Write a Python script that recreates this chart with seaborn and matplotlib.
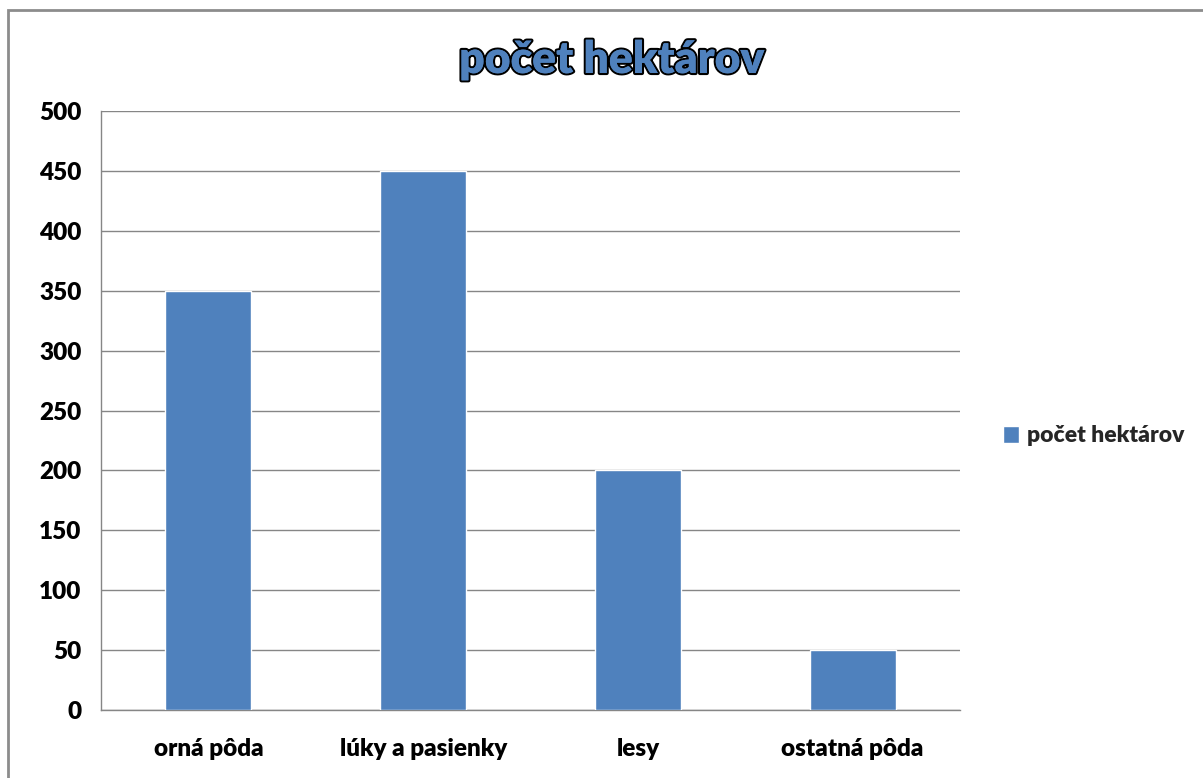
import pandas as pd
import seaborn as sns
import matplotlib.pyplot as plt
import matplotlib.patheffects as pe
from matplotlib.patches import Rectangle, Patch

# Údaje z grafu
kategorie = ["orná pôda", "lúky a pasienky", "lesy", "ostatná pôda"]
hektary = [350, 450, 200, 50]
nazov_serie = "počet hektárov"

df = pd.DataFrame({"Kategória": kategorie, "Hektáre": hektary})

sns.set_theme(style="white")
plt.rcParams["font.family"] = ["Lato", "DejaVu Sans"]

modra = "#4F81BD"
siva = "#868686"
vaha = "heavy"
velkost = 17.5

fig = plt.figure(figsize=(12.03, 7.78), dpi=100)
ax = fig.add_axes([101 / 1203, 1 - 710 / 778, (960 - 101) / 1203, (710 - 111) / 778])

sns.barplot(data=df, x="Kategória", y="Hektáre", color=modra, width=0.4,
            saturation=1, ax=ax, zorder=3)

ax.set_ylim(0, 500)
ax.set_xlim(-0.5, len(kategorie) - 0.5)
ax.set_yticks(range(0, 501, 50))
ax.yaxis.grid(True, color=siva, linewidth=1, zorder=0)
ax.set_xlabel("")
ax.set_ylabel("")

for s in ["top", "right"]:
    ax.spines[s].set_visible(False)
for s in ["left", "bottom"]:
    ax.spines[s].set_color(siva)
    ax.spines[s].set_linewidth(1)

# značky osi x medzi kategóriami
ax.set_xticks([i - 0.5 for i in range(len(kategorie) + 1)], minor=True)
ax.tick_params(axis="x", which="minor", length=6, color=siva, width=1, direction="out")
ax.tick_params(axis="x", which="major", length=0, pad=20)
ax.tick_params(axis="y", length=6, color=siva, width=1, direction="out", pad=8)
ax.set_xticks(range(len(kategorie)))
ax.set_xticklabels(kategorie, fontsize=velkost, fontweight=vaha, color="black")
for lbl in ax.get_yticklabels():
    lbl.set_fontsize(velkost)
    lbl.set_fontweight(vaha)
    lbl.set_color("black")

# Nadpis s obrysom
fig.text(612 / 1203, 1 - 60 / 778, nazov_serie, ha="center", va="center",
         fontsize=32, fontweight=vaha, color=modra,
         path_effects=[pe.withStroke(linewidth=3, foreground="black"), pe.Normal()])

# Legenda
fig.legend(handles=[Patch(facecolor=modra, label=nazov_serie)],
           loc="center left", bbox_to_anchor=(982 / 1203, 1 - 436 / 778),
           frameon=False, prop={"size": 16.5, "weight": vaha},
           handlelength=0.7, handleheight=0.7, handletextpad=0.35)

# Rámček grafu
fig.patches.append(Rectangle((8 / 1203, -0.1), 1.2, 1 - 10 / 778 + 0.1,
                             transform=fig.transFigure, fill=False,
                             edgecolor="#8C8C8C", linewidth=2))

fig.savefig("out.png", dpi=100)
